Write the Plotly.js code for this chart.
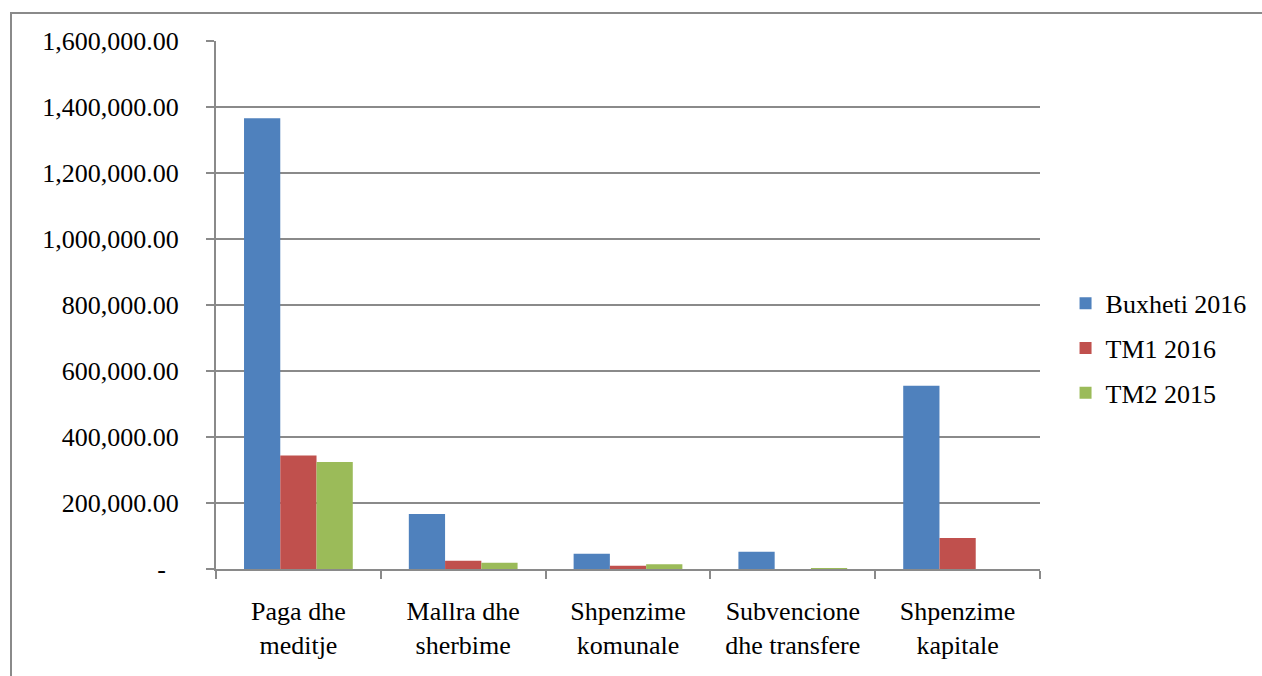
<!DOCTYPE html>
<html>
<head>
<meta charset="utf-8">
<script src="https://cdn.plot.ly/plotly-3.0.1.min.js"></script>
<style>
  html, body { margin: 0; padding: 0; background: #ffffff; overflow: hidden; width: 1262px; height: 676px; }
  #frame { position: absolute; left: 10px; top: 12px; width: 1252px; height: 664px;
           border-left: 2px solid #8a8a8a; border-top: 2px solid #8a8a8a; box-sizing: border-box; }
  #chart { position: absolute; left: 0; top: 0; width: 1262px; height: 676px; }
  .main-svg text, .main-svg tspan { font-family: Tinos, "Liberation Serif", serif !important; }
</style>
</head>
<body>
<div id="frame"></div>
<div id="chart"></div>
<script>
const categories = [
  "Paga dhe<br>meditje",
  "Mallra dhe<br>sherbime",
  "Shpenzime<br>komunale",
  "Subvencione<br>dhe transfere",
  "Shpenzime<br>kapitale"
];
const seriesNames = ["Buxheti 2016", "TM1 2016", "TM2 2015"];
const buxheti2016 = [1366000, 167000, 46000, 52000, 555000];
const tm12016 = [344000, 25000, 10000, 0, 94000];
const tm22015 = [324000, 19000, 14500, 3000, 0];
const yTickVals = [0, 200000, 400000, 600000, 800000, 1000000, 1200000, 1400000, 1600000];
const yTickText = ["-\u00a0\u00a0", "200,000.00", "400,000.00", "600,000.00", "800,000.00",
                   "1,000,000.00", "1,200,000.00", "1,400,000.00", "1,600,000.00"];
const colors = ["#4F81BD", "#C0504D", "#9BBB59"];

const allSeries = [buxheti2016, tm12016, tm22015];
const traces = allSeries.map((vals, i) => ({
  type: "bar",
  x: categories,
  y: vals,
  name: seriesNames[i],
  legendgroup: "g" + i,
  marker: { color: colors[i], line: { width: 0 } },
  hoverinfo: "x+y+name"
}));

function serifFont() {
  return { family: "Tinos, serif", size: 26, color: "#000000" };
}

const layout = {
  width: 1262,
  height: 676,
  margin: { l: 216, r: 222, t: 41, b: 107, pad: 0, autoexpand: false },
  paper_bgcolor: "rgba(0,0,0,0)",
  plot_bgcolor: "rgba(0,0,0,0)",
  font: serifFont(),
  barmode: "group",
  bargap: 0.34,
  bargroupgap: 0,
  showlegend: true,
  legend: {
    x: 1.031, xanchor: "left",
    y: 0.418, yanchor: "middle",
    font: serifFont(),
    tracegroupgap: 8,
    bgcolor: "rgba(0,0,0,0)",
    itemclick: false
  },
  xaxis: {
    type: "category",
    automargin: false,
    showgrid: false,
    showline: true,
    linecolor: "#8a8a8a",
    linewidth: 2,
    ticks: "outside",
    tickson: "boundaries",
    ticklen: 8,
    tickwidth: 2,
    tickcolor: "#8a8a8a",
    tickfont: serifFont(),
    ticklabelstandoff: 18,
    zeroline: false
  },
  yaxis: {
    automargin: false,
    range: [0, 1600000],
    tickvals: yTickVals,
    ticktext: yTickText,
    showgrid: true,
    gridcolor: "#8a8a8a",
    gridwidth: 2,
    showline: true,
    linecolor: "#8a8a8a",
    linewidth: 2,
    ticks: "outside",
    ticklen: 8,
    tickwidth: 2,
    tickcolor: "#8a8a8a",
    tickfont: serifFont(),
    ticklabelstandoff: 22,
    zeroline: false
  }
};

Plotly.newPlot("chart", traces, layout, { staticPlot: true, displayModeBar: false });
</script>
</body>
</html>
